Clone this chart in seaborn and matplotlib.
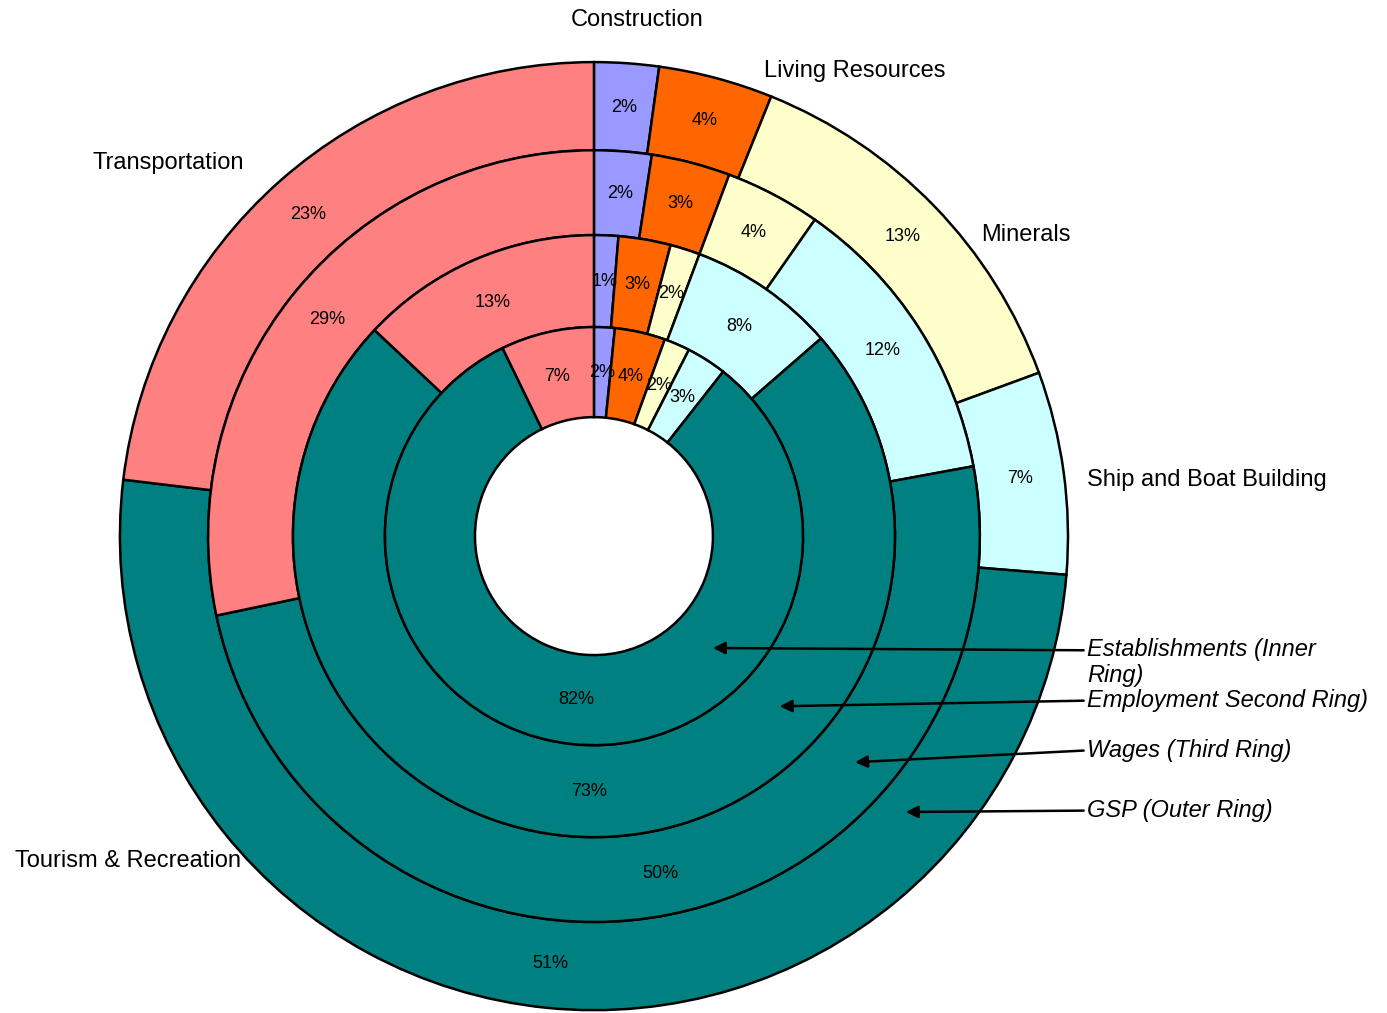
import matplotlib
matplotlib.use("Agg")
import matplotlib.pyplot as plt
import seaborn as sns

sns.set_theme(style="white")
plt.rcParams['font.family'] = ['Liberation Sans', 'DejaVu Sans']

# data (percent shares per sector, clockwise from top)
sectors = ['Construction', 'Living Resources', 'Minerals',
           'Ship and Boat Building', 'Tourism & Recreation', 'Transportation']
gsp = [2.2, 3.9, 13.3, 6.9, 50.6, 23.1]             # outer ring
wages = [2.4, 3.3, 4.0, 12.4, 49.6, 28.3]           # third ring
employment = [1.3, 2.8, 1.6, 7.9, 73.4, 13.0]       # second ring
establishments = [1.6, 3.9, 2.0, 3.1, 82.2, 7.2]    # inner ring
ring_names = ['GSP (Outer Ring)', 'Wages (Third Ring)',
              'Employment Second Ring)', 'Establishments (Inner\nRing)']
# percentages as printed on the chart
wages_shown = [2, 3, 4, 12, 50, 29]

colors = ['#9999ff', '#ff6600', '#ffffcc', '#ccffff', '#008080', '#ff8080']

# layout
radii = [1.0, 0.814, 0.635, 0.441]
hole = 0.251
label_pos = [(0.091, 1.088), (0.551, 0.982), (0.911, 0.636),
             (1.293, 0.119), (-0.983, -0.686), (-0.899, 0.788)]
arrow_tip = [(0.658, -0.582), (0.551, -0.477), (0.392, -0.359), (0.251, -0.236)]
text_xy = [(1.040, -0.579), (1.040, -0.452), (1.040, -0.347), (1.040, -0.267)]

fig = plt.figure(figsize=(13.87, 10.13), dpi=100)
ax = fig.add_axes([0, 0, 1, 1])


def shown(values):
    it = iter(values)
    return lambda pct: '%d%%' % next(it)


rings = [gsp, wages, employment, establishments]
fmts = ['%1.0f%%', shown(wages_shown), '%1.0f%%', '%1.0f%%']
inner_edges = radii[1:] + [hole]
for vals, fmt, r, r_in in zip(rings, fmts, radii, inner_edges):
    w = r - r_in
    ax.pie(vals, radius=r, colors=colors, startangle=90, counterclock=False,
           autopct=fmt, pctdistance=(r - w / 2) / r,
           wedgeprops=dict(width=w, edgecolor='black', linewidth=1.8),
           textprops=dict(fontsize=13, color='black'))

for name, (x, y) in zip(sectors, label_pos):
    ax.text(x, y, name, ha='center', va='center', fontsize=17,
            color='black', zorder=0.5)

for name, tip, txt in zip(ring_names, arrow_tip, text_xy):
    rel = (0, 0.75) if '\n' in name else (0, 0.5)
    ax.annotate(name, xy=tip, xytext=txt, ha='left', va='center',
                fontsize=17, style='italic', color='black', zorder=5,
                arrowprops=dict(arrowstyle='-|>', color='black', lw=1.8,
                                mutation_scale=18, shrinkA=0, shrinkB=0,
                                relpos=rel))

ax.set_aspect('auto')
ax.set_xlim(-1.253, 1.673)
ax.set_ylim(-1.006, 1.131)
ax.axis('off')

fig.savefig('out.png', dpi=100)
